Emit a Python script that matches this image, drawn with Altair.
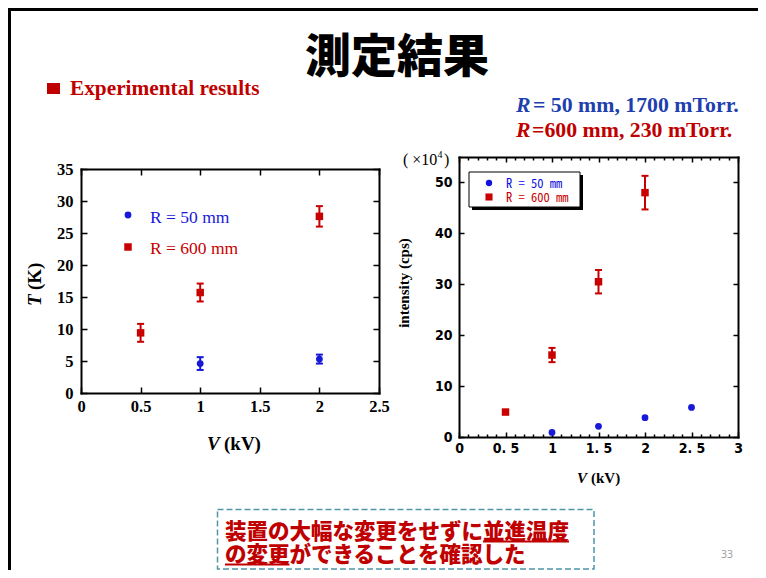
import altair as alt
import pandas as pd

W, H = 750, 562

SERIES = ["R = 50 mm", "R = 600 mm"]
COLORS = ["#1818d8", "#c80000"]
SHAPES = ["circle", "square"]
SIZES = [46, 56]

# ---- Left panel: T (K) versus V (kV)
T_V_50 = [1.0, 2.0]
T_50 = [4.6, 5.3]
T_ERR_50 = [1.0, 0.7]
T_V_600 = [0.5, 1.0, 2.0]
T_600 = [9.4, 15.7, 27.6]
T_ERR_600 = [1.4, 1.4, 1.6]

# ---- Right panel: intensity (x10^4 cps) versus V (kV)
I_V_50 = [1.0, 1.5, 2.0, 2.5]
I_50 = [0.9, 2.1, 3.8, 5.8]
I_V_600 = [0.5, 1.0, 1.5, 2.0]
I_600 = [4.9, 16.1, 30.5, 48.0]
I_ERR_600 = [0.3, 1.4, 2.3, 3.3]

L_X_TICKS = [0, 0.5, 1, 1.5, 2, 2.5]
L_Y_TICKS = [0, 5, 10, 15, 20, 25, 30, 35]
R_X_TICKS = [0, 0.5, 1, 1.5, 2, 2.5, 3]
R_X_MINOR = [0.1, 0.2, 0.3, 0.4, 0.6, 0.7, 0.8, 0.9, 1.1, 1.2, 1.3, 1.4,
             1.6, 1.7, 1.8, 1.9, 2.1, 2.2, 2.3, 2.4, 2.6, 2.7, 2.8, 2.9]
R_Y_TICKS = [0, 10, 20, 30, 40, 50]

SERIF = "Liberation Serif, Times New Roman, serif"
NARROW = "Liberation Sans Narrow, DejaVu Sans Condensed, Arial Narrow, sans-serif"
MONO = "Noto Sans Mono CJK JP, Liberation Mono, monospace"
CJK = "Noto Sans CJK JP, sans-serif"
RED = "#c00000"
HEAD_BLUE = "#1f3fae"

color_enc = alt.Color("R:N", scale=alt.Scale(domain=SERIES, range=COLORS), legend=None)
shape_enc = alt.Shape("R:N", scale=alt.Scale(domain=SERIES, range=SHAPES), legend=None)
size_enc = alt.Size("R:N", scale=alt.Scale(domain=SERIES, range=SIZES), legend=None)


def axis(orient, offset, values, labels=False, tick=0, domain=False, font=SERIF,
         size=16, pad=0, expr=None):
    kw = dict(orient=orient, offset=offset, values=values, labels=labels,
              ticks=tick > 0, tickSize=tick, domain=domain, grid=False, title=None,
              domainColor="black", domainWidth=2, domainCap="square",
              tickColor="black", tickWidth=1.5, labelFlush=False, labelOverlap=False,
              labelFont=font, labelFontSize=size, labelFontWeight="bold",
              labelColor="black", labelPadding=pad, format="~f")
    if expr:
        kw["labelExpr"] = expr
    return alt.Axis(**kw)


def series_frames(v50, y50, e50, v600, y600, e600):
    pts = pd.DataFrame({"V": v50 + v600, "Y": y50 + y600,
                        "R": [SERIES[0]] * len(v50) + [SERIES[1]] * len(v600)})
    ev, lo, hi, rr = [], [], [], []
    for v, y, e, r in [(a, b, c, SERIES[0]) for a, b, c in zip(v50, y50, e50)] + \
                      [(a, b, c, SERIES[1]) for a, b, c in zip(v600, y600, e600)]:
        ev.append(v); lo.append(y - e); hi.append(y + e); rr.append(r)
    err = pd.DataFrame({"V": ev, "lo": lo, "hi": hi, "R": rr})
    caps = pd.DataFrame({"V": ev + ev, "Y": lo + hi, "R": rr + rr})
    return pts, err, caps


def panel(pts, err, caps, xs, ys, ax_lab_x, ax_lab_y, ax_in_bx, ax_in_ly,
          ax_in_tx, ax_in_ry, minor_axes=()):
    p = alt.Chart(pts).mark_point(filled=True, opacity=1, strokeWidth=0).encode(
        x=alt.X("V:Q", scale=xs, axis=ax_lab_x),
        y=alt.Y("Y:Q", scale=ys, axis=ax_lab_y),
        color=color_enc, shape=shape_enc, size=size_enc)
    r = alt.Chart(err).mark_rule(strokeWidth=2).encode(
        x=alt.X("V:Q", scale=xs, axis=ax_in_bx),
        y=alt.Y("lo:Q", scale=ys, axis=ax_in_ly),
        y2="hi:Q", color=color_enc)
    c = alt.Chart(caps).mark_tick(orient="horizontal", size=7, thickness=2, opacity=1).encode(
        x=alt.X("V:Q", scale=xs, axis=ax_in_tx),
        y=alt.Y("Y:Q", scale=ys, axis=ax_in_ry),
        color=color_enc)
    layers = [p, r, c]
    for ma in minor_axes:
        layers.append(alt.Chart(pts).mark_point(opacity=0).encode(
            x=alt.X("V:Q", scale=xs, axis=ma)))
    return alt.layer(*layers).resolve_axis(x="independent", y="independent")


# Left panel geometry (pixels in the canvas)
xsL = alt.Scale(domain=[0, 2.5], range=[73, 371], nice=False, zero=False)
ysL = alt.Scale(domain=[0, 35], range=[385, 161], nice=False, zero=False)
ptsL, errL, capsL = series_frames(T_V_50, T_50, T_ERR_50, T_V_600, T_600, T_ERR_600)
left = panel(
    ptsL, errL, capsL, xsL, ysL,
    axis("bottom", 385 - H, L_X_TICKS, labels=True, domain=True, size=16.5, pad=5),
    axis("left", -73, L_Y_TICKS, labels=True, domain=True, size=16.5, pad=8),
    axis("top", -385, L_X_TICKS, tick=6),
    axis("right", 73 - W, L_Y_TICKS, tick=6),
    axis("bottom", 161 - H, L_X_TICKS, tick=6, domain=True),
    axis("left", -371, L_Y_TICKS, tick=6, domain=True),
)

# Right panel geometry
xsR = alt.Scale(domain=[0, 3], range=[451, 730], nice=False, zero=False)
ysR = alt.Scale(domain=[0, 55], range=[429, 149], nice=False, zero=False)
ptsR, errR, capsR = series_frames(I_V_50, I_50, [0] * len(I_V_50), I_V_600, I_600, I_ERR_600)
errR = errR[errR["R"] == SERIES[1]]
capsR = capsR[capsR["R"] == SERIES[1]]
right = panel(
    ptsR, errR, capsR, xsR, ysR,
    axis("bottom", 429 - H, R_X_TICKS, labels=True, domain=True, font=NARROW, size=14,
         pad=4, expr="replace(datum.label, '.', '. ')"),
    axis("left", -451, R_Y_TICKS, labels=True, domain=True, font=NARROW, size=14, pad=7),
    axis("top", -429, R_X_TICKS, tick=5),
    axis("right", 451 - W, R_Y_TICKS, tick=5),
    axis("bottom", 149 - H, R_X_TICKS, tick=5, domain=True),
    axis("left", -730, R_Y_TICKS, tick=5, domain=True),
    minor_axes=(axis("top", -429, R_X_MINOR, tick=3),
                axis("bottom", 149 - H, R_X_MINOR, tick=3)),
)

ONE = pd.DataFrame({"a": [0]})


def txt(s, x, y, size, color="black", font=SERIF, weight="bold", style="normal",
        align="left", baseline="alphabetic", angle=0):
    return alt.Chart(pd.DataFrame({"t": [s]})).mark_text(
        align=align, baseline=baseline, font=font, fontSize=size, fontWeight=weight,
        fontStyle=style, color=color, angle=angle).encode(
        x=alt.value(x), y=alt.value(y), text="t:N")


def rect(x1, x2, y1, y2, **kw):
    return alt.Chart(ONE).mark_rect(**kw).encode(
        x=alt.value(x1), x2=alt.value(x2), y=alt.value(y1), y2=alt.value(y2))


def hrule(x1, x2, y, color, width):
    return alt.Chart(ONE).mark_rule(color=color, strokeWidth=width).encode(
        x=alt.value(x1), x2=alt.value(x2), y=alt.value(y))


def vrule(x, y1, y2, color, width):
    return alt.Chart(ONE).mark_rule(color=color, strokeWidth=width).encode(
        x=alt.value(x), y=alt.value(y1), y2=alt.value(y2))


def marker(shape, x, y, size, color):
    return alt.Chart(ONE).mark_point(shape=shape, filled=True, size=size, color=color,
                                     opacity=1, strokeWidth=0).encode(
        x=alt.value(x), y=alt.value(y))


FOOT1 = "装置の大幅な変更をせずに並進温度"
FOOT2 = "の変更ができることを確認した"
FS = 21.5
FX = 217

annotations = [
    # slide frame
    vrule(1.5, 0, H, "black", 3),
    hrule(0, W, 1.5, "black", 3),
    # header
    txt("測定結果", 389, 50, 46, font=CJK, weight=900, align="center", baseline="middle"),
    rect(39, 52, 75, 86, color=RED),
    txt("Experimental results", 62, 87, 21.3, color=RED),
    txt("R", 508, 104, 21.8, color=HEAD_BLUE, style="italic"),
    txt("= 50 mm, 1700 mTorr.", 525, 104, 21.8, color=HEAD_BLUE),
    txt("R", 508, 129, 21.8, color=RED, style="italic"),
    txt("=600 mm, 230 mTorr.", 524, 129, 21.8, color=RED),
    # left panel titles and legend
    txt("T", 27, 298, 19, style="italic", angle=270, baseline="middle"),
    txt("(K)", 27, 282, 19, angle=270, baseline="middle"),
    txt("V", 199, 436, 19, style="italic", baseline="middle"),
    txt("(kV)", 216, 436, 19, baseline="middle"),
    marker("circle", 120, 207, 46, COLORS[0]),
    txt(SERIES[0], 142, 210, 17.5, color=COLORS[0], weight="normal", baseline="middle"),
    marker("square", 120, 239, 56, COLORS[1]),
    txt(SERIES[1], 142, 241, 17.5, color=COLORS[1], weight="normal", baseline="middle"),
    # right panel titles and legend
    txt("( ×10", 395, 157, 16, weight="normal"),
    txt("4", 429.5, 150, 10, weight="normal"),
    txt(")", 436, 157, 16, weight="normal"),
    txt("intensity (cps)", 396, 275, 15, angle=270, align="center", baseline="middle"),
    txt("V", 569, 470, 15, style="italic", baseline="middle"),
    txt("(kV)", 583, 470, 15, baseline="middle"),
    rect(464, 575, 167, 202, color="black"),
    rect(461, 572, 164, 199, fill="white", stroke="black", strokeWidth=1),
    marker("circle", 481, 175, 40, "#1010e0"),
    txt("R = 50 mm", 498, 175.5, 12.5, color="#1010e0", font=MONO, weight="normal",
        baseline="middle"),
    marker("square", 481, 189, 50, COLORS[1]),
    txt("R = 600 mm", 498, 189.5, 12.5, color=COLORS[1], font=MONO, weight="normal",
        baseline="middle"),
    # footer
    rect(209.5, 586, 501.5, 561, fillOpacity=0, stroke="#4f97a8", strokeWidth=1.5,
         strokeDash=[6, 3]),
    txt(FOOT1, FX, 530.5, FS, color=RED, font=CJK, weight=900),
    txt(FOOT2, FX, 553.5, FS, color=RED, font=CJK, weight=900),
    hrule(FX + FS * (len(FOOT1) - 4), FX + FS * len(FOOT1), 533.5, RED, 2),
    hrule(FX, FX + FS * 3, 556.5, RED, 2),
    txt("33", 725, 550, 10.5, color="#9a9a9a", font="Open Sans, DejaVu Sans, sans-serif",
        weight="normal", align="right"),
]

chart = alt.layer(left, right, *annotations).resolve_scale(
    x="independent", y="independent").resolve_axis(
    x="independent", y="independent").properties(
    width=W, height=H, autosize=alt.AutoSizeParams(type="none"), padding=0
).configure_view(stroke=None)

chart.save("out.html", embed_options={"renderer": "svg", "actions": False})
